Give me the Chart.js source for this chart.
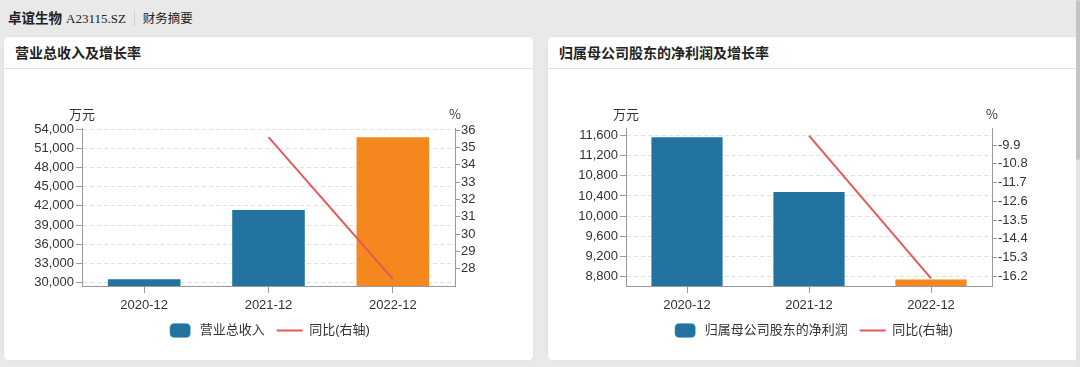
<!DOCTYPE html>
<html>
<head>
<meta charset="utf-8">
<script src="https://cdn.jsdelivr.net/npm/chart.js@4.4.1/dist/chart.umd.min.js"></script>
<style>
  html, body { margin: 0; padding: 0; }
  body { width: 1080px; height: 367px; overflow: hidden; background: #e9e9e9; position: relative; font-family: "Liberation Sans", "Noto Sans CJK SC", sans-serif; color: #222; }
  .top { position: absolute; left: 8px; top: 0; height: 34px; line-height: 34px; white-space: nowrap; }
  .top .name { font-family: "Noto Sans CJK SC", sans-serif; font-weight: 700; font-size: 13.5px; }
  .top .code { font-family: "Liberation Serif", serif; font-size: 13px; margin-left: 4px; }
  .top .sep { display: inline-block; width: 1px; height: 15px; background: #cfcfcf; vertical-align: middle; margin: 0 8px 0 8px; }
  .top .tab { font-family: "Noto Sans CJK SC", sans-serif; font-size: 12.5px; }
  .card { position: absolute; top: 37px; width: 529px; height: 323px; background: #fff; border-radius: 4px; box-shadow: 0 0 2px rgba(0,0,0,0.08); }
  .card .title { height: 31px; line-height: 31px; padding-left: 11px; border-bottom: 1px solid #e2e2e2; font-family: "Noto Sans CJK SC", sans-serif; font-weight: 700; font-size: 14px; color: #222; }
  .card canvas { position: absolute; left: 0; top: 32px; }
  .scroll { position: absolute; right: 0; top: 0; width: 4px; height: 367px; background: #e4e4e4; }
  .scroll div { width: 4px; height: 160px; background: #c4c4c4; border-radius: 2px; }
</style>
</head>
<body>
<div class="top"><span class="name">卓谊生物</span><span class="code">A23115.SZ</span><span class="sep"></span><span class="tab">财务摘要</span></div>

<div class="card" style="left:4px"><div class="title">营业总收入及增长率</div><canvas id="revChart" width="529" height="291"></canvas></div>
<div class="card" style="left:548px"><div class="title">归属母公司股东的净利润及增长率</div><canvas id="profitChart" width="529" height="291"></canvas></div>
<div class="scroll"><div></div></div>

<script>
const periods = ['2020-12', '2021-12', '2022-12'];

// 营业总收入 (万元) 与同比 (%)
const revenue = [30670, 41530, 52900];
const revenueYoy = [null, 35.6, 27.4];
const revTicksLeft = [30000, 33000, 36000, 39000, 42000, 45000, 48000, 51000, 54000];
const revTicksRight = [28, 29, 30, 31, 32, 33, 34, 35, 36];

// 归属母公司股东的净利润 (万元) 与同比 (%)
const netProfit = [11590, 10500, 8755];
const netProfitYoy = [null, -9.45, -16.3];
const profitTicksLeft = [8800, 9200, 9600, 10000, 10400, 10800, 11200, 11600];
const profitTicksRight = [-16.2, -15.3, -14.4, -13.5, -12.6, -11.7, -10.8, -9.9];

const barColors = ['#22739f', '#22739f', '#f5871f'];
const lineColor = '#e5585a';
const tickFont = { family: '"Liberation Sans", "Noto Sans CJK SC", sans-serif', size: 13 };

const unitLabels = {
    id: 'unitLabels',
    afterDraw(chart, args, opts) {
        const ctx = chart.ctx;
        const top = chart.chartArea.top;
        ctx.save();
        ctx.fillStyle = '#333';
        ctx.font = '13px "Noto Sans CJK SC", sans-serif';
        ctx.textAlign = 'center';
        ctx.textBaseline = 'middle';
        ctx.fillText(opts.left, chart.scales.yL.right, top - 14);
        ctx.fillText(opts.right, chart.scales.yR.left, top - 14);
        ctx.restore();
    }
};

function makeChart(id, barLabel, bars, yoy, leftTicks, rightTicks, leftRange, rightRange, rightWidth) {
    const ctx = document.getElementById(id).getContext('2d');
    return new Chart(ctx, {
        type: 'bar',
        data: {
            labels: periods,
            datasets: [
                {
                    label: barLabel,
                    data: bars,
                    backgroundColor: barColors,
                    borderColor: 'rgba(255,255,255,0.35)',
                    borderWidth: 1,
                    barPercentage: 0.6,
                    categoryPercentage: 1,
                    yAxisID: 'yL',
                    pointStyle: 'rectRounded',
                    order: 1
                },
                {
                    label: '同比(右轴)',
                    type: 'line',
                    data: yoy,
                    borderColor: lineColor,
                    backgroundColor: lineColor,
                    borderWidth: 2,
                    pointRadius: 0,
                    fill: false,
                    yAxisID: 'yR',
                    pointStyle: 'line',
                    order: 0
                }
            ]
        },
        options: {
            responsive: false,
            animation: false,
            devicePixelRatio: 1,
            layout: { padding: { top: 59, bottom: 13, left: 0, right: 0 } },
            plugins: {
                tooltip: { enabled: false },
                unitLabels: { left: '万元', right: '%' },
                legend: {
                    position: 'bottom',
                    labels: {
                        sort: (a, b) => a.datasetIndex - b.datasetIndex,
                        usePointStyle: true,
                        pointStyleWidth: 26,
                        boxHeight: 12,
                        padding: 12,
                        color: '#333',
                        font: tickFont
                    }
                }
            },
            scales: {
                x: {
                    offset: true,
                    grid: { offset: false, drawOnChartArea: false, tickLength: 7, color: '#999' },
                    border: { color: '#999' },
                    ticks: { color: '#333', font: tickFont, padding: 5 },
                    afterFit: s => { s.height = 26; }
                },
                yL: {
                    position: 'left',
                    min: leftRange[0],
                    max: leftRange[1],
                    afterBuildTicks: s => { s.ticks = leftTicks.map(v => ({ value: v })); },
                    afterFit: s => { s.width = 78; },
                    grid: { color: '#e0e0e0', tickColor: '#999', tickLength: 6, tickBorderDash: [] },
                    border: { color: '#999', dash: [4, 3] },
                    ticks: { color: '#333', font: tickFont, padding: 2, callback: v => v.toLocaleString('en-US') }
                },
                yR: {
                    position: 'right',
                    min: rightRange[0],
                    max: rightRange[1],
                    afterBuildTicks: s => { s.ticks = rightTicks.map(v => ({ value: v })); },
                    afterFit: s => { s.width = rightWidth; },
                    grid: { drawOnChartArea: false, color: '#999', tickLength: 5 },
                    border: { color: '#999' },
                    ticks: { color: '#333', font: tickFont, padding: 1, callback: v => String(Number(v.toFixed(1))) }
                }
            }
        },
        plugins: [unitLabels]
    });
}

makeChart('revChart', '营业总收入', revenue, revenueYoy, revTicksLeft, revTicksRight, [29450, 54200], [27, 36.13], 78);
makeChart('profitChart', '归属母公司股东的净利润', netProfit, netProfitYoy, profitTicksLeft, profitTicksRight, [8606, 11754], [-16.67, -9.08], 85);
</script>
</body>
</html>
